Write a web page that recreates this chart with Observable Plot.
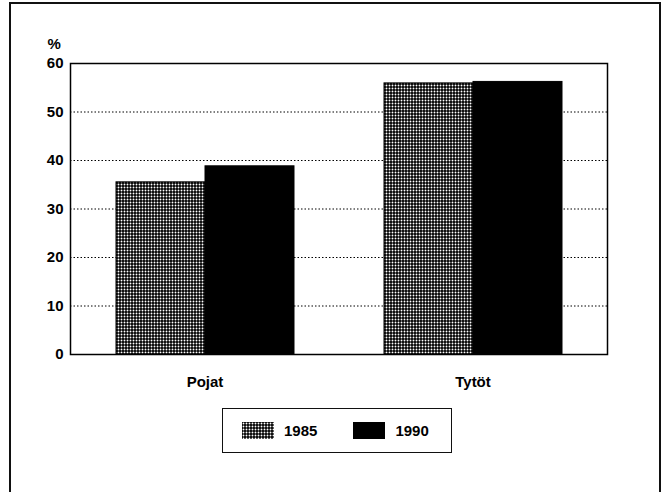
<!DOCTYPE html>
<html><head><meta charset="utf-8">
<script src="https://cdn.jsdelivr.net/npm/d3@7"></script>
<script src="https://cdn.jsdelivr.net/npm/@observablehq/plot@0.6"></script>
<style>
body{margin:0;background:#fff;}
#page{position:relative;width:661px;height:492px;overflow:hidden;font-family:"Liberation Sans",Arial,sans-serif;font-weight:bold;font-size:15px;}
#border{position:absolute;left:9px;top:2px;width:648px;height:520px;border:2px solid #111;border-bottom:none;}
#back{position:absolute;left:0;top:35px;}
#chart{position:absolute;left:0;top:0;}
#legend{position:absolute;left:222px;top:408px;width:230px;height:45px;border:1.5px solid #111;box-sizing:border-box;display:flex;align-items:center;padding-left:19px;}
.item{display:flex;align-items:center;margin-right:36px;}
.item svg{margin-right:10px;display:block;}
</style></head>
<body>
<div id="page"><div id="border"></div><div id="back"></div><div id="chart"></div><div id="legend"></div></div>
<script>
const categories = ["Pojat", "Tytöt"];
const years = ["1985", "1990"];
const values1985 = [35.5, 55.9];
const values1990 = [38.8, 56.2];
const yTicks = [0, 10, 20, 30, 40, 50, 60];
const gridTicks = [10, 20, 30, 40, 50];
const yearFills = ["url(#dots)", "#000"];

const rows = [];
categories.forEach((c, i) => {
  rows.push({category: c, year: years[0], value: values1985[i]});
  rows.push({category: c, year: years[1], value: values1990[i]});
});

const style = {fontFamily: '"Liberation Sans", Arial, sans-serif', fontSize: "15px", fontWeight: "bold", color: "#000", background: "transparent", overflow: "visible"};

// Background: y axis, dotted grid and frame across the whole plot area
const back = Plot.plot({
  width: 661,
  height: 365,
  marginLeft: 70,
  marginRight: 54,
  marginTop: 28,
  marginBottom: 46,
  style,
  x: {domain: categories, axis: null},
  y: {domain: [0, 60], ticks: yTicks, tickSize: 0, tickPadding: 7, label: "%", labelAnchor: "top", labelArrow: "none", labelOffset: 23},
  marks: [
    Plot.ruleY(gridTicks, {stroke: "#000", strokeDasharray: "1.5,2", strokeWidth: 1}),
    Plot.frame({stroke: "#000", strokeWidth: 1.5})
  ]
});

// Foreground: grouped bars
const chart = Plot.plot({
  width: 661,
  height: 400,
  marginLeft: 70,
  marginRight: 54,
  marginTop: 63,
  marginBottom: 46,
  style,
  fx: {domain: categories, paddingInner: 1/3, paddingOuter: 1/6, label: null, tickSize: 0, tickPadding: 22},
  x: {domain: years, padding: 0, axis: null},
  y: {domain: [0, 60], axis: null},
  color: {domain: years, range: yearFills},
  marks: [
    Plot.barY(rows, {fx: "category", x: "year", y: "value", fill: "year", stroke: "#000", strokeWidth: 1})
  ]
});

d3.select(chart).insert("defs", ":first-child").html(
  '<pattern id="dots" width="3" height="3" patternUnits="userSpaceOnUse">' +
  '<rect width="3" height="3" fill="#000"/><circle cx="1.5" cy="1.5" r="0.95" fill="#fff"/></pattern>'
);
document.getElementById("back").appendChild(back);
document.getElementById("chart").appendChild(chart);

const legend = d3.select("#legend");
years.forEach((y, i) => {
  const item = legend.append("div").attr("class", "item");
  const s = item.append("svg").attr("width", 32).attr("height", 17);
  s.append("rect").attr("width", 32).attr("height", 17).attr("fill", yearFills[i]);
  item.append("span").text(y);
});
</script>
</body></html>
